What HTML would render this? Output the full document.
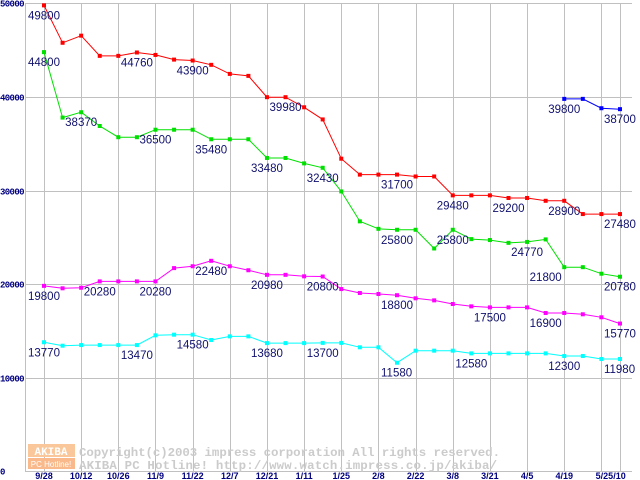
<!DOCTYPE html>
<html><head><meta charset="utf-8"><style>
html,body{margin:0;padding:0;background:#fff;}
svg{display:block;}
</style></head><body>
<svg id="chart" width="640" height="480" xmlns="http://www.w3.org/2000/svg" font-family="Liberation Sans, sans-serif">
<g id="grid"></g>
<g id="wm">
  <rect x="28" y="444" width="47" height="13" fill="#f9c79a"/>
  <text x="51" y="455" font-size="11" font-weight="bold" fill="#fff" text-anchor="middle" font-family="Liberation Mono, monospace">AKIBA</text>
  <rect x="28" y="458" width="47" height="11" fill="#f9b98a"/>
  <text x="51" y="467" font-size="8" fill="#fff" text-anchor="middle">PC Hotline!</text>
  <text x="79" y="456" font-size="12.4" font-weight="bold" fill="#cbcbcb" font-family="Liberation Mono, monospace" textLength="421">Copyright(c)2003 impress corporation All rights reserved.</text>
  <text x="79" y="469" font-size="12.4" font-weight="bold" fill="#cbcbcb" font-family="Liberation Mono, monospace" textLength="418">AKIBA PC Hotline!  http://www.watch.impress.co.jp/akiba/</text>
</g>
<g id="series"></g>
<g id="labels"></g>
<g id="axes"></g>
</svg>
<script>
const xTickLabels = ["9/28","10/12","10/26","11/9","11/22","12/7","12/21","1/11","1/25","2/8","2/22","3/8","3/21","4/5","4/19","5/25/10"];
const yTicks = [0,10000,20000,30000,40000,50000];
const redValues = [49800,45800,46560,44400,44400,44760,44500,44000,43900,43440,42470,42260,39980,39980,38900,37600,33400,31700,31700,31700,31500,31500,29480,29480,29480,29200,29200,28900,28900,27480,27480,27480];
const greenValues = [44800,37800,38370,36900,35700,35700,36500,36500,36500,35480,35480,35480,33480,33480,32900,32430,29900,26700,25900,25800,25800,23800,25800,24800,24700,24400,24500,24770,21800,21800,21100,20780];
const magentaValues = [19800,19540,19600,20280,20280,20280,20280,21700,21900,22480,21900,21470,20980,20980,20820,20800,19460,19040,18930,18800,18470,18250,17860,17610,17500,17500,17500,16900,16900,16760,16440,15770];
const cyanValues = [13770,13400,13470,13470,13470,13470,14510,14580,14580,14010,14400,14400,13680,13680,13680,13700,13700,13230,13230,11580,12870,12870,12870,12580,12580,12580,12580,12580,12300,12300,11980,11980];
const blueValues = [null,null,null,null,null,null,null,null,null,null,null,null,null,null,null,null,null,null,null,null,null,null,null,null,null,null,null,null,39800,39800,38800,38700];
const redLabels = [[0,"49800",0],[5,"44760",5],[8,"43900",8],[13,"39980",13],[19,"31700",19],[22,"29480",22],[25,"29200",25],[28,"28900",28],[31,"27480",31]];
const greenLabels = [[0,"44800",0],[2,"38370",2],[6,"36500",6],[9,"35480",9],[12,"33480",12],[15,"32430",15],[19,"25800",19],[22,"25800",22],[26,"24770",26],[27,"21800",28],[31,"20780",31]];
const magentaLabels = [[0,"19800",0],[3,"20280",3],[6,"20280",6],[9,"22480",9],[12,"20980",12],[15,"20800",15],[19,"18800",19],[24,"17500",24],[27,"16900",27],[31,"15770",31]];
const cyanLabels = [[0,"13770",0],[5,"13470",5],[8,"14580",8],[12,"13680",12],[15,"13700",15],[19,"11580",19],[23,"12580",23],[28,"12300",28],[31,"11980",31]];
const blueLabels = [[28,"39800",28],[31,"38700",31]];

const NS="http://www.w3.org/2000/svg";
function X(i){return 44+i*18.58;}
function Y(v){return 471-v*0.00935;}
function mk(tag,attrs,parent){const e=document.createElementNS(NS,tag);for(const k in attrs)e.setAttribute(k,attrs[k]);parent.appendChild(e);return e;}
const grid=document.getElementById('grid'),series=document.getElementById('series'),labels=document.getElementById('labels'),axes=document.getElementById('axes');

const vx=[25];
for(let k=0;k<16;k++)vx.push(X(k*2));
vx.push(X(31));
vx.forEach(x=>{
  const l=mk('line',{x1:Math.round(x)+0.5,x2:Math.round(x)+0.5,y1:3,y2:471,stroke:'#c0c0c0','stroke-width':1},grid);
  
  
});
yTicks.forEach(v=>{
  const y=Math.round(Y(v))+0.5;
  const l=mk('line',{x1:25,x2:632,y1:y,y2:y,stroke:'#c0c0c0','stroke-width':1},grid);
  
  
  const t=mk('text',{x:0,y:y+3,'font-size':9,'font-weight':'bold',fill:'#000080','font-family':'Liberation Mono, monospace',textLength:String(v).length*4.9},axes);
  t.textContent=String(v);
  
  
});
xTickLabels.forEach((s,k)=>{
  let x=X(k*2);
  if(k===15)x=(X(30)+X(31))/2;
  const t=mk('text',{x:x,y:479,'font-size':9,'font-weight':'bold',fill:'#000080','text-anchor':'middle'},axes);
  t.textContent=s;
  
  
});

function drawSeries(vals,color,name,lbls){
  const g=mk('g',{},series);
  
  
  let pts=[];
  vals.forEach((v,i)=>{if(v!==null)pts.push(X(i).toFixed(1)+','+Y(v).toFixed(1));});
  const pl=mk('polyline',{points:pts.join(' '),fill:'none',stroke:color,'stroke-width':1},g);
  
  
  vals.forEach((v,i)=>{
    if(v===null)return;
    const r=mk('rect',{x:X(i)-2,y:Y(v)-2,width:4,height:4,fill:color},g);
    
    
  });
  lbls.forEach(([i,s,vi])=>{
    const t=mk('text',{x:X(i)-16,y:Y(vals[vi])+14,'font-size':11.5,fill:'#10106e'},labels);
    t.textContent=s;
    
    
  });
}
drawSeries(cyanValues,'#00ffff','cyan',cyanLabels);
drawSeries(magentaValues,'#ff00ff','magenta',magentaLabels);
drawSeries(greenValues,'#00e000','green',greenLabels);
drawSeries(redValues,'#ff0000','red',redLabels);
drawSeries(blueValues,'#0000ff','blue',blueLabels);
</script>
</body></html>
